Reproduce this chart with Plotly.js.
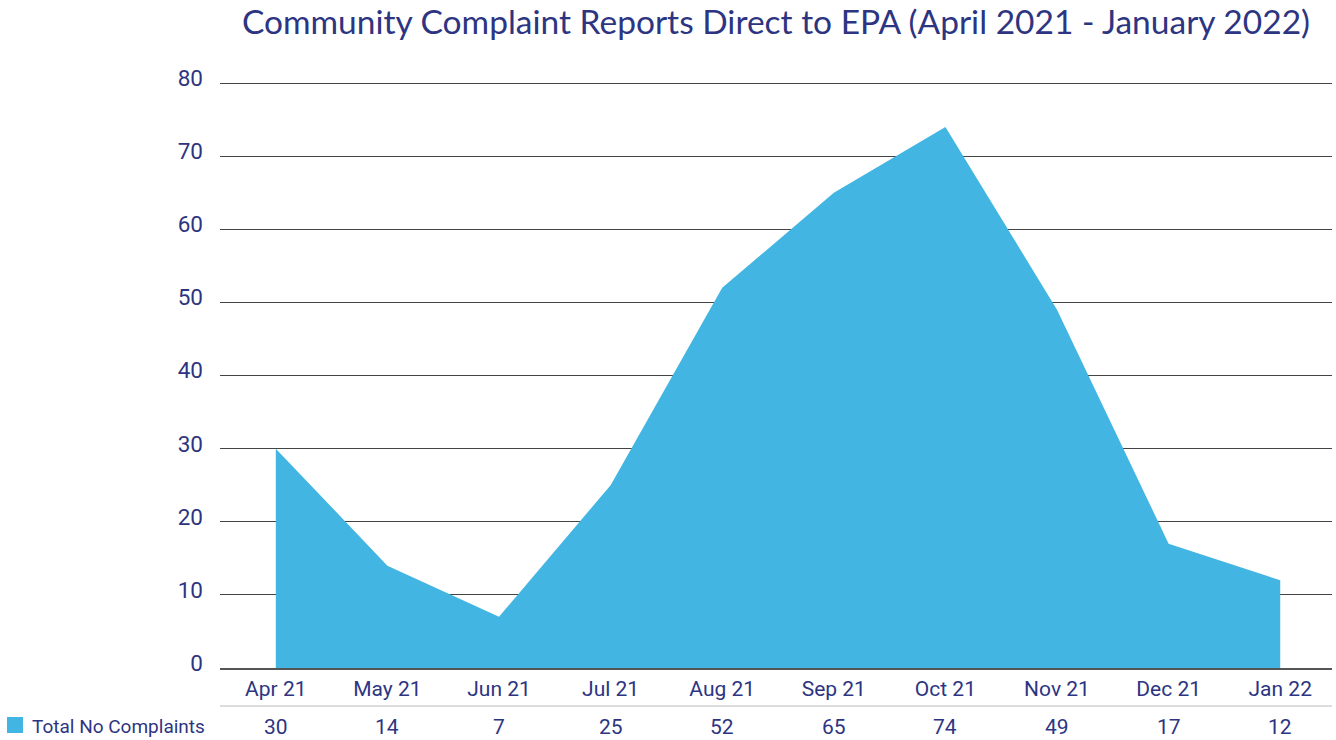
<!DOCTYPE html>
<html>
<head>
<meta charset="utf-8">
<script src="https://cdn.plot.ly/plotly-3.0.1.min.js"></script>
<style>html,body{margin:0;padding:0;background:#fff;}#chart{width:1336px;height:740px;}</style>
</head>
<body>
<div id="chart"></div>
<script>
const months = ["Apr 21", "May 21", "Jun 21", "Jul 21", "Aug 21", "Sep 21", "Oct 21", "Nov 21", "Dec 21", "Jan 22"];
const complaints = [30, 14, 7, 25, 52, 65, 74, 49, 17, 12];
const seriesName = "Total No Complaints";
const chartTitle = "Community Complaint Reports Direct to EPA (April 2021 - January 2022)";

const navy = "#2d3582";
const fillBlue = "#43b5e3";
const plotTop = 82, plotBottom = 668, plotLeft = 220, plotRight = 1332;
const plotH = plotBottom - plotTop, plotW = plotRight - plotLeft;
const py = px => -(px - plotBottom) / plotH;
const pxX = px => (px - plotLeft) / plotW;

const trace = {
  type: "scatter",
  mode: "lines",
  x: months,
  y: complaints,
  fill: "tozeroy",
  fillcolor: fillBlue,
  line: {width: 0, color: fillBlue},
  name: seriesName,
  hoverinfo: "skip",
  showlegend: false
};

const annotations = months.map((m, i) => ({
  x: m, xref: "x", y: py(727), yref: "paper",
  text: String(complaints[i]), showarrow: false,
  xanchor: "center", yanchor: "middle",
  font: {family: "Roboto", size: 21, color: navy}
}));
annotations.push({
  x: pxX(30), xref: "paper", y: py(726), yref: "paper",
  text: seriesName, showarrow: false, xanchor: "left", yanchor: "middle",
  font: {family: "Roboto", size: 19, color: navy}
});

const layout = {
  width: 1336, height: 740,
  margin: {l: plotLeft, r: 1336 - plotRight, t: plotTop, b: 740 - plotBottom},
  paper_bgcolor: "#fff", plot_bgcolor: "#fff",
  title: {
    text: chartTitle, xref: "paper", x: 0.5, xanchor: "center",
    yref: "container", y: 1 - 22 / 740, yanchor: "middle",
    font: {family: "Lato", size: 33.5, color: navy}
  },
  xaxis: {
    type: "category", range: [-0.5, 9.464], showgrid: false,
    showline: true, linecolor: "#555", linewidth: 1.5,
    ticks: "", ticklabelstandoff: 1,
    tickfont: {family: "Roboto", size: 21, color: navy},
    fixedrange: true
  },
  yaxis: {
    range: [0, 80.14], dtick: 10, showgrid: true, gridcolor: "#444", gridwidth: 1,
    zeroline: false, ticks: "", ticklabelstandoff: 16, ticklabelshift: -5,
    tickfont: {family: "Roboto", size: 22.5, color: navy},
    fixedrange: true
  },
  shapes: [
    {type: "line", xref: "paper", yref: "paper", x0: 0, x1: 1, y0: py(706), y1: py(706),
     line: {color: "#dcdcdc", width: 2}},
    {type: "rect", xref: "paper", yref: "paper", x0: pxX(7), x1: pxX(23), y0: py(717), y1: py(733),
     fillcolor: fillBlue, line: {width: 0}}
  ],
  annotations: annotations,
  showlegend: false
};

Plotly.newPlot("chart", [trace], layout, {displayModeBar: false, staticPlot: true});
</script>
</body>
</html>
